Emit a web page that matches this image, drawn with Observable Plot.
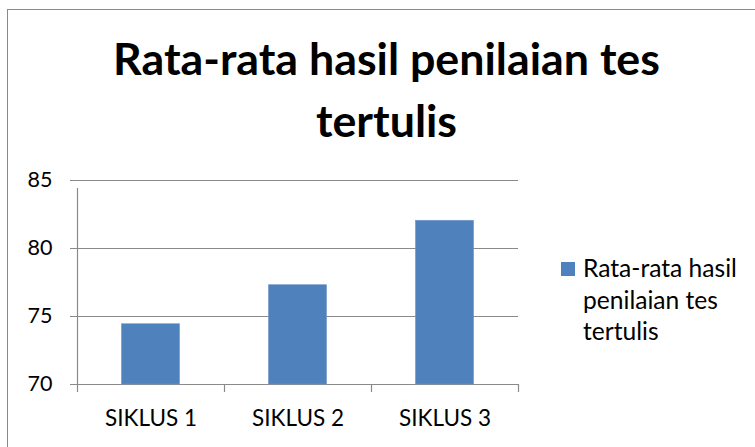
<!DOCTYPE html>
<html>
<head>
<meta charset="utf-8">
<script src="https://cdn.jsdelivr.net/npm/d3@7"></script>
<script src="https://cdn.jsdelivr.net/npm/@observablehq/plot@0.6"></script>
<style>
  html, body { margin: 0; padding: 0; background: #fff; }
  #wrap { position: relative; width: 755px; height: 447px; overflow: hidden; background: #fff; }
  #frame { position: absolute; left: 7px; top: 9px; width: 900px; height: 600px; border: 1px solid #8a8a8a; box-sizing: border-box; }
  #chart { position: absolute; left: 0; top: 0; }
  #overlay { position: absolute; left: 0; top: 0; }
</style>
</head>
<body>
<div id="wrap">
  <div id="frame"></div>
  <div id="chart"></div>
  <svg id="overlay" width="755" height="447"></svg>
</div>
<script>
const categories = ["SIKLUS 1", "SIKLUS 2", "SIKLUS 3"];
const values = [74.43, 77.3, 82.04];
const yTicks = [70, 75, 80, 85];
const titleLines = ["Rata-rata hasil penilaian tes", "tertulis"];
const legendLines = ["Rata-rata hasil", "penilaian tes", "tertulis"];
const barColor = "#4F81BD";

const data = categories.map((c, i) => ({c, i, v: values[i]}));

// fit font sizes to measured widths in the reference
const ctx = document.createElement("canvas").getContext("2d");
function fit(text, weight, target) {
  ctx.font = `${weight} 40px Lato`;
  return 40 * target / ctx.measureText(text).width;
}
const titleSize = fit(titleLines[0], "bold", 547);
const axisSize = fit(categories[0], "normal", 92);
const yLabelSize = fit("85", "normal", 25);
const legendSize = fit(legendLines[0], "normal", 154);

const chart = Plot.plot({
  width: 755,
  height: 447,
  marginLeft: 77,
  marginRight: 237,
  marginTop: 180,
  marginBottom: 63,
  x: {type: "linear", domain: [0, 3], axis: null},
  y: {domain: [70, 85], axis: null},
  style: {fontFamily: "Lato", fontSize: axisSize + "px", color: "black", background: "transparent"},
  marks: [
    Plot.ruleY(yTicks, {y: d => d, insetLeft: -7, stroke: "#8a8a8a", strokeWidth: 1.2}),
    Plot.rectY(data, {x1: d => d.i + 0.5 - 0.1975, x2: d => d.i + 0.5 + 0.1975, y1: 70, y2: "v", fill: barColor, stroke: "#6f97c9", strokeWidth: 0.6}),
    Plot.ruleX([0, 1, 2, 3], {x: d => d, y1: 70, y2: 70, insetBottom: -8, stroke: "#8a8a8a", strokeWidth: 1.2}),
    Plot.ruleX([0], {x: d => d, y1: 70, y2: 85, insetBottom: -8, stroke: "#8a8a8a", strokeWidth: 1.2}),
    Plot.text(yTicks, {x: 0, y: d => d, text: d => String(d), textAnchor: "end", dx: -25, fill: "black", fontSize: yLabelSize}),
    Plot.text(data, {x: d => d.i + 0.5, y: 70, dy: 34.5, text: "c", fill: "black"})
  ]
});
document.getElementById("chart").appendChild(chart);

const ov = d3.select("#overlay");
ov.selectAll("text.title").data(titleLines).join("text")
  .attr("class", "title")
  .attr("x", 386.5)
  .attr("y", (d, i) => 75 + i * 62)
  .attr("text-anchor", "middle")
  .attr("font-family", "Lato")
  .attr("font-weight", "bold")
  .attr("font-size", titleSize)
  .attr("fill", "black")
  .text(d => d);

ov.append("rect").attr("x", 561).attr("y", 262).attr("width", 14).attr("height", 14).attr("fill", barColor);
ov.selectAll("text.leg").data(legendLines).join("text")
  .attr("class", "leg")
  .attr("x", 583)
  .attr("y", (d, i) => 277 + i * 31.5)
  .attr("font-family", "Lato")
  .attr("font-size", legendSize)
  .attr("fill", "black")
  .text(d => d);
</script>
</body>
</html>
